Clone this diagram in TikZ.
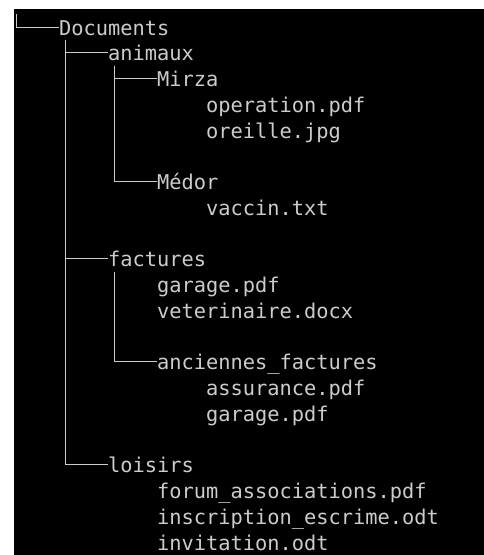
\documentclass[tikz,border=0pt]{standalone}
\usepackage{fontspec}
\setmonofont{DejaVu Sans Mono}
\definecolor{termfg}{RGB}{204,204,204}
\begin{document}
\begin{tikzpicture}
\fill[white] (0pt,0pt) rectangle (484pt,-555pt);
\useasboundingbox (0pt,0pt) rectangle (484pt,-555pt);
\fill[black] (14pt,-9pt) rectangle (484pt,-555pt);
\begin{scope}[shift={(9.875pt,-35pt)}, x=12.25pt, y=-25.75pt,
  entry/.style={anchor=base west, inner sep=0pt, text height=16pt, text depth=0pt,
    text=termfg, font=\ttfamily\fontsize{20.35pt}{25.75pt}\selectfont},
  branch/.style={draw=termfg, line width=1pt}]
\node[entry] (docs) at (4,0) {Documents};
\node[entry] (animaux) at (8,1) {animaux};
\node[entry] (mirza) at (12,2) {Mirza};
\node[entry] (op) at (16,3) {operation.pdf};
\node[entry] (ore) at (16,4) {oreille.jpg};
\node[entry] (medor) at (12,6) {Médor};
\node[entry] (vaccin) at (16,7) {vaccin.txt};
\node[entry] (factures) at (8,9) {factures};
\node[entry] (garage1) at (12,10) {garage.pdf};
\node[entry] (veto) at (12,11) {veterinaire.docx};
\node[entry] (anciennes) at (12,13) {anciennes\_factures};
\node[entry] (assurance) at (16,14) {assurance.pdf};
\node[entry] (garage2) at (16,15) {garage.pdf};
\node[entry] (loisirs) at (8,17) {loisirs};
\node[entry] (forum) at (12,18) {forum\_associations.pdf};
\node[entry] (inscription) at (12,19) {inscription\_escrime.odt};
\node[entry] (invitation) at (12,20) {invitation.odt};
\coordinate (root-top) at (0.5,-0.81);
\coordinate (docs-v) at (4.5,0.19);
\coordinate (animaux-v) at (8.5,1.19);
\coordinate (factures-v) at (8.5,9.19);
\draw[branch] (root-top) |- (docs.west);
\draw[branch] (docs-v) |- (animaux.west);
\draw[branch] (docs-v) |- (factures.west);
\draw[branch] (docs-v) |- (loisirs.west);
\draw[branch] (animaux-v) |- (mirza.west);
\draw[branch] (animaux-v) |- (medor.west);
\draw[branch] (factures-v) |- (anciennes.west);
\end{scope}
\end{tikzpicture}
\end{document}
